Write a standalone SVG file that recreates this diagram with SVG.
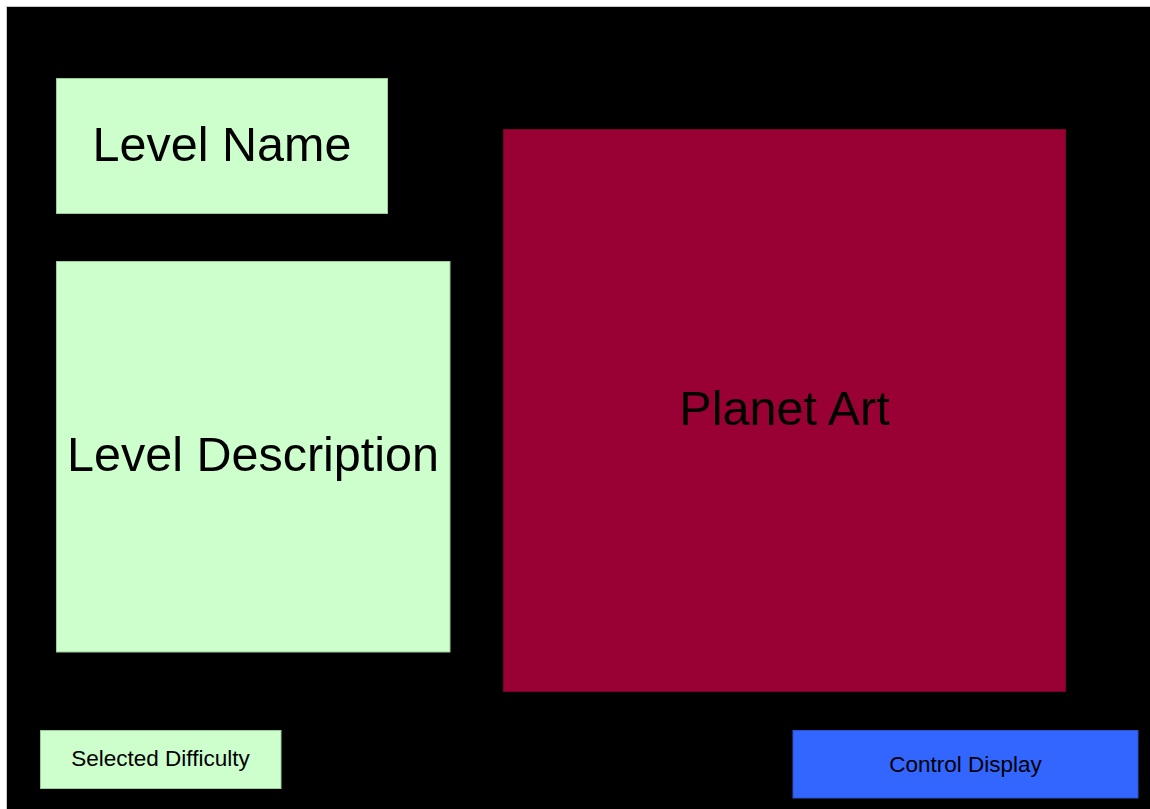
<svg xmlns="http://www.w3.org/2000/svg" width="1150" height="809" viewBox="0 0 1150 809">
  <style>
    .panel { stroke-width: 1; }
    .green { fill: #ccffcc; stroke: #99cc99; }
    .red { fill: #990033; stroke: #7a0029; }
    .blue { fill: #3366ff; stroke: #2952cc; }
    .label { font-family: "Liberation Sans", Arial, sans-serif; fill: #000000; text-anchor: middle; }
    .big { font-size: 48.5px; }
    .small { font-size: 22.5px; }
  </style>
  <rect x="0" y="0" width="1150" height="809" fill="#ffffff"/>
  <!-- screen background -->
  <rect id="screen" x="6.5" y="6.5" width="1150" height="810" fill="#000000" stroke="#c8c8c8" stroke-width="1"/>

  <g id="level-name">
    <rect class="panel green" x="56.5" y="78.5" width="331" height="135"/>
    <text class="label big" x="222" y="161">Level Name</text>
  </g>

  <g id="level-description">
    <rect class="panel green" x="56.5" y="261.5" width="393.5" height="390.5"/>
    <text class="label big" x="253" y="471">Level Description</text>
  </g>

  <g id="planet-art">
    <rect class="panel red" x="503.5" y="129.5" width="562" height="562"/>
    <text class="label big" x="784.5" y="425">Planet Art</text>
  </g>

  <g id="selected-difficulty">
    <rect class="panel green" x="40.5" y="730.5" width="240.5" height="58"/>
    <text class="label small" x="160.5" y="766">Selected Difficulty</text>
  </g>

  <g id="control-display">
    <rect class="panel blue" x="793" y="730.5" width="345" height="67.5"/>
    <text class="label small" x="965.5" y="771.5">Control Display</text>
  </g>

  <g id="connectors"/>
</svg>
